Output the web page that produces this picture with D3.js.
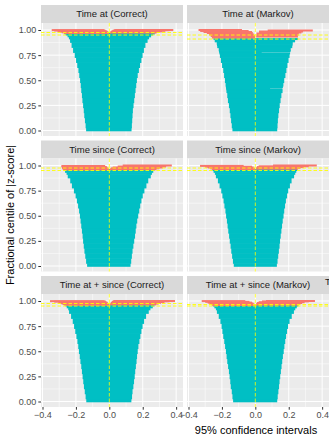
<!DOCTYPE html>
<html>
<head>
<meta charset="utf-8">
<script src="https://cdn.jsdelivr.net/npm/d3@7"></script>
<style>
  body { margin: 0; background: #fff; }
  text { font-family: "Liberation Sans", Arial, sans-serif; }
</style>
</head>
<body>
<div id="chart"></div>
<script>
const panelTitles = [
    "Time at (Correct)", "Time at (Markov)",
    "Time since (Correct)", "Time since (Markov)",
    "Time at + since (Correct)", "Time at + since (Markov)"
];

const xTicks = [-0.4, -0.2, 0, 0.2, 0.4];
const yTicks = [0, 0.25, 0.5, 0.75, 1];

// centile levels shared by the lower part of every panel
const baseCentile = [0, 0.05, 0.1, 0.15, 0.2, 0.25, 0.3, 0.35, 0.4, 0.45, 0.5,
    0.55, 0.6, 0.65, 0.7, 0.75, 0.8, 0.85, 0.9];

const baseLower = [
    [-0.139, -0.142, -0.146, -0.150, -0.153, -0.157, -0.161, -0.164, -0.168, -0.171, -0.175, -0.180, -0.185, -0.192, -0.199, -0.207, -0.217, -0.226, -0.235],
    [-0.137, -0.141, -0.145, -0.149, -0.153, -0.158, -0.164, -0.168, -0.173, -0.178, -0.182, -0.187, -0.192, -0.199, -0.206, -0.212, -0.219, -0.229, -0.243],
    [-0.133, -0.139, -0.144, -0.149, -0.153, -0.157, -0.160, -0.164, -0.168, -0.172, -0.176, -0.181, -0.187, -0.194, -0.202, -0.212, -0.224, -0.234, -0.249],
    [-0.129, -0.134, -0.139, -0.144, -0.148, -0.153, -0.157, -0.162, -0.166, -0.170, -0.175, -0.179, -0.185, -0.190, -0.197, -0.204, -0.214, -0.224, -0.236],
    [-0.138, -0.142, -0.147, -0.152, -0.156, -0.160, -0.164, -0.168, -0.173, -0.177, -0.182, -0.186, -0.191, -0.197, -0.204, -0.211, -0.219, -0.229, -0.241],
    [-0.133, -0.137, -0.141, -0.147, -0.150, -0.154, -0.158, -0.163, -0.168, -0.172, -0.176, -0.181, -0.186, -0.192, -0.197, -0.202, -0.209, -0.219, -0.230]
];

const baseUpper = [
    [0.133, 0.135, 0.137, 0.139, 0.141, 0.145, 0.149, 0.153, 0.157, 0.161, 0.165, 0.170, 0.177, 0.184, 0.192, 0.199, 0.207, 0.216, 0.229],
    [0.131, 0.133, 0.135, 0.138, 0.142, 0.146, 0.151, 0.156, 0.163, 0.168, 0.173, 0.180, 0.186, 0.192, 0.199, 0.205, 0.212, 0.222, 0.238],
    [0.127, 0.131, 0.135, 0.139, 0.144, 0.149, 0.154, 0.158, 0.162, 0.167, 0.173, 0.179, 0.185, 0.192, 0.200, 0.210, 0.222, 0.233, 0.248],
    [0.129, 0.133, 0.137, 0.141, 0.145, 0.148, 0.152, 0.156, 0.160, 0.164, 0.169, 0.173, 0.178, 0.183, 0.190, 0.197, 0.207, 0.217, 0.232],
    [0.132, 0.136, 0.139, 0.144, 0.148, 0.152, 0.155, 0.159, 0.163, 0.166, 0.170, 0.174, 0.180, 0.186, 0.192, 0.199, 0.208, 0.220, 0.236],
    [0.131, 0.134, 0.138, 0.142, 0.145, 0.149, 0.153, 0.157, 0.161, 0.165, 0.170, 0.174, 0.179, 0.184, 0.190, 0.196, 0.205, 0.218, 0.231]
];

// extra intervals per panel (upper tail, plus the odd short ones in the Markov panel)
const topCentile = [
    [0.92, 0.94, 0.955, 0.965, 0.971, 0.974, 0.977, 0.98, 0.983, 0.986, 0.989, 0.992, 0.995, 0.998, 0.999, 1],
    [0.41, 0.42, 0.43, 0.77, 0.78, 0.79, 0.845, 0.853, 0.86, 0.91, 0.925, 0.935, 0.94, 0.95, 0.955, 0.965, 0.97, 0.975, 0.98, 0.985, 0.99, 0.995, 1],
    [0.92, 0.94, 0.955, 0.96, 0.963, 0.968, 0.972, 0.976, 0.98, 0.985, 0.99, 0.995, 1],
    [0.92, 0.94, 0.955, 0.965, 0.968, 0.972, 0.976, 0.98, 0.984, 0.988, 0.992, 0.996, 1],
    [0.92, 0.94, 0.955, 0.962, 0.966, 0.97, 0.974, 0.978, 0.982, 0.986, 0.99, 0.994, 0.997, 0.9985, 1],
    [0.92, 0.94, 0.955, 0.96, 0.964, 0.968, 0.972, 0.976, 0.98, 0.984, 0.988, 0.992, 0.996, 0.999, 1]
];

const topLower = [
    [-0.242, -0.25, -0.26, -0.268, -0.272, 0.003, -0.282, 0.008, -0.295, 0.012, -0.31, 0.018, -0.33, 0.026, -0.345, 0.035],
    [-0.174, -0.175, -0.176, -0.215, -0.216, -0.218, -0.228, -0.229, -0.231, -0.25, -0.26, 0.005, -0.267, 0.007, -0.277, 0.007, -0.29, 0.022, -0.31, 0.022, -0.33, 0.074, -0.34],
    [-0.256, -0.265, -0.272, -0.276, 0.004, -0.28, 0.01, -0.283, 0.02, -0.285, 0.05, -0.287, 0.08],
    [-0.242, -0.25, -0.256, -0.26, 0.003, -0.27, 0.006, -0.285, 0.01, -0.3, 0.02, -0.331, 0.106],
    [-0.246, -0.255, -0.262, -0.27, 0.003, -0.28, 0.006, -0.292, 0.01, -0.305, 0.015, -0.33, 0.02, -0.355, 0.026],
    [-0.236, -0.245, -0.254, -0.258, 0.003, -0.265, 0.006, -0.275, 0.01, -0.285, 0.02, -0.3, 0.04, -0.321, 0.064]
];

const topUpper = [
    [0.238, 0.25, 0.262, 0.272, -0.002, 0.282, -0.006, 0.298, -0.01, 0.315, -0.016, 0.335, -0.024, 0.36, -0.03, 0.383],
    [0.162, 0.088, 0.165, 0.208, 0.038, 0.211, 0.221, 0.02, 0.224, 0.256, -0.001, 0.255, -0.002, 0.258, -0.007, 0.26, -0.015, 0.276, -0.02, 0.286, -0.04, 0.344, -0.08],
    [0.255, 0.263, 0.27, -0.002, 0.282, -0.006, 0.3, -0.01, 0.32, -0.015, 0.34, -0.025, 0.374],
    [0.239, 0.245, 0.25, -0.002, 0.256, -0.005, 0.27, -0.01, 0.29, -0.02, 0.32, -0.07, 0.368],
    [0.246, 0.26, 0.27, -0.002, 0.28, -0.005, 0.295, -0.008, 0.31, -0.012, 0.33, -0.02, 0.36, -0.028, 0.393],
    [0.239, 0.248, 0.257, -0.002, 0.26, -0.006, 0.268, -0.012, 0.28, -0.02, 0.295, -0.035, 0.32, -0.06, 0.357]
];

// dashed reference levels (nominal and observed coverage)
const refLevels = [[0.975, 0.95], [0.95, 0.91], [0.975, 0.95], [0.975, 0.95], [0.975, 0.95], [0.965, 0.95]];

const width = 329;
const height = 441;
const colLeft = [41, 187];
const panelW = 142;
const panelH = 113;
const stripH = 18;
const rowTop = [5, 140.5, 276];

const svg = d3.select("#chart")
    .append("svg")
    .attr("width", width)
    .attr("height", height);

svg.append("rect").attr("width", width).attr("height", height).attr("fill", "#fff");

const x = d3.scaleLinear().domain([-0.409, 0.441]).range([0, panelW]);
const y = d3.scaleLinear().domain([0, 1]).range([107.5, 7]);

const xMinor = xTicks.slice(1).map((t, i) => (t + xTicks[i]) / 2);
const yMinor = yTicks.slice(1).map((t, i) => (t + yTicks[i]) / 2);

panelTitles.forEach((title, p) => {
    const col = p % 2;
    const row = Math.floor(p / 2);
    const top = rowTop[row] + stripH;

    const strip = svg.append("g").attr("transform", `translate(${colLeft[col]},${rowTop[row]})`);
    strip.append("rect").attr("width", panelW).attr("height", stripH).attr("fill", "#D9D9D9");
    strip.append("text")
        .attr("x", panelW / 2)
        .attr("y", stripH / 2 + 3.4)
        .attr("text-anchor", "middle")
        .attr("font-size", "9.5px")
        .attr("fill", "#1A1A1A")
        .text(title);

    const g = svg.append("g").attr("transform", `translate(${colLeft[col]},${top})`);
    g.append("rect").attr("width", panelW).attr("height", panelH).attr("fill", "#EBEBEB");

    g.selectAll(".minor-y").data(yMinor).join("line")
        .attr("x1", 0).attr("x2", panelW)
        .attr("y1", d => y(d)).attr("y2", d => y(d))
        .attr("stroke", "#fff").attr("stroke-width", 0.5);
    g.selectAll(".minor-x").data(xMinor).join("line")
        .attr("y1", 0).attr("y2", panelH)
        .attr("x1", d => x(d)).attr("x2", d => x(d))
        .attr("stroke", "#fff").attr("stroke-width", 0.5);
    g.selectAll(".major-y").data(yTicks).join("line")
        .attr("x1", 0).attr("x2", panelW)
        .attr("y1", d => y(d)).attr("y2", d => y(d))
        .attr("stroke", "#fff").attr("stroke-width", 1);
    g.selectAll(".major-x").data(xTicks).join("line")
        .attr("y1", 0).attr("y2", panelH)
        .attr("x1", d => x(d)).attr("x2", d => x(d))
        .attr("stroke", "#fff").attr("stroke-width", 1);

    // intervals, sorted by centile; each one fills the band up to its neighbours
    const rows = baseCentile.map((c, i) => ({c, lo: baseLower[p][i], hi: baseUpper[p][i]}))
        .concat(topCentile[p].map((c, i) => ({c, lo: topLower[p][i], hi: topUpper[p][i]})))
        .sort((a, b) => a.c - b.c);

    rows.forEach((d, i) => {
        const below = i > 0 ? (d.c - rows[i - 1].c) / 2 : 0.005;
        const above = i < rows.length - 1 ? (rows[i + 1].c - d.c) / 2 : 0.005;
        let y0 = y(d.c + above);
        let y1 = y(d.c - below);
        if (y1 - y0 < 1.4) {
            const mid = y(d.c);
            y0 = mid - 0.7;
            y1 = mid + 0.7;
        }
        // small overlap so no background seeps through between bands
        d.y0 = y0 - 0.3;
        d.h = y1 - y0 + 0.6;
    });

    g.selectAll(".ci").data(rows).join("rect")
        .attr("x", d => x(d.lo))
        .attr("width", d => x(d.hi) - x(d.lo))
        .attr("y", d => d.y0)
        .attr("height", d => d.h)
        .attr("fill", d => (d.lo <= 0 && d.hi >= 0) ? "#00BFC4" : "#F8766D");

    g.append("line")
        .attr("x1", x(0)).attr("x2", x(0))
        .attr("y1", 0).attr("y2", panelH)
        .attr("stroke", "#FFFF00").attr("stroke-width", 0.8)
        .attr("stroke-dasharray", "3.5,2");

    g.selectAll(".ref").data(refLevels[p]).join("line")
        .attr("x1", 0).attr("x2", panelW)
        .attr("y1", d => y(d)).attr("y2", d => y(d))
        .attr("stroke", "#FFFF00").attr("stroke-width", 0.9)
        .attr("stroke-dasharray", "3.5,2");

    if (col === 0) {
        g.append("g")
            .call(d3.axisLeft(y).tickValues(yTicks).tickFormat(d3.format(".2f")).tickSize(2.7).tickPadding(2))
            .call(a => a.select(".domain").remove())
            .call(a => a.selectAll("line").attr("stroke", "#333"))
            .call(a => a.selectAll("text").attr("fill", "#4D4D4D").attr("font-size", "9px")
                .attr("font-family", "Liberation Sans, Arial, sans-serif"));
    }
    if (row === 2) {
        g.append("g")
            .attr("transform", `translate(0,${panelH})`)
            .call(d3.axisBottom(x).tickValues(xTicks).tickFormat(d3.format(".1f")).tickSize(2.7).tickPadding(2))
            .call(a => a.select(".domain").remove())
            .call(a => a.selectAll("line").attr("stroke", "#333"))
            .call(a => a.selectAll("text").attr("fill", "#4D4D4D").attr("font-size", "9px")
                .attr("font-family", "Liberation Sans, Arial, sans-serif"));
    }
});

svg.append("text")
    .attr("transform", `translate(14,215) rotate(-90)`)
    .attr("text-anchor", "middle")
    .attr("font-size", "11px")
    .attr("fill", "#000")
    .text("Fractional centile of |z-score|");

svg.append("text")
    .attr("x", 256)
    .attr("y", 434)
    .attr("text-anchor", "middle")
    .attr("font-size", "11px")
    .attr("fill", "#000")
    .text("95% confidence intervals");

// first letter of a strip title that runs in from outside the window
svg.append("text")
    .attr("x", 325)
    .attr("y", 285)
    .attr("font-size", "9.5px")
    .attr("fill", "#1A1A1A")
    .text("T");
</script>
</body>
</html>
